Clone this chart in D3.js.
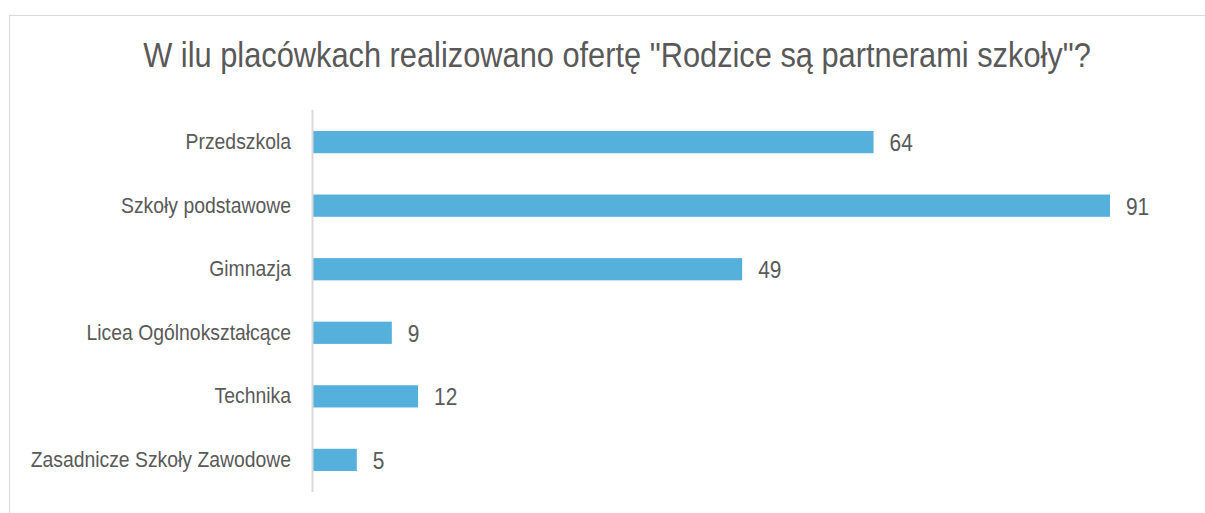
<!DOCTYPE html>
<html>
<head>
<meta charset="utf-8">
<script src="https://cdn.jsdelivr.net/npm/d3@7"></script>
<style>
  html, body { margin: 0; padding: 0; background: #fff; }
  svg text { font-family: "Liberation Sans", Arial, sans-serif; fill: #595959; }
</style>
</head>
<body>
<div id="chart"></div>
<script>
const title = 'W ilu placówkach realizowano ofertę "Rodzice są partnerami szkoły"?';
const categories = ["Przedszkola", "Szkoły podstawowe", "Gimnazja", "Licea Ogólnokształcące", "Technika", "Zasadnicze Szkoły Zawodowe"];
const values = [64, 91, 49, 9, 12, 5];

const width = 1205, height = 513;
const margin = { top: 110, right: 95, bottom: 21, left: 313 };

const svg = d3.select("#chart")
    .append("svg")
    .attr("width", width)
    .attr("height", height);

// chart frame (runs off the right and bottom edges)
svg.append("rect")
    .attr("x", 9.5)
    .attr("y", 15.5)
    .attr("width", width + 20)
    .attr("height", height + 20)
    .attr("fill", "none")
    .attr("stroke", "#d9d9d9");

// the source font is a narrow one, so squeeze text horizontally
svg.append("text")
    .attr("transform", "translate(617,67) scale(0.88,1)")
    .attr("text-anchor", "middle")
    .style("font-size", "35px")
    .text(title);

const x = d3.scaleLinear()
    .domain([0, 91])
    .range([margin.left, 1110]);

const y = d3.scaleBand()
    .domain(categories)
    .range([margin.top, height - margin.bottom])
    .paddingInner(0.65)
    .paddingOuter(0.33);

const data = categories.map((c, i) => ({ cat: c, val: values[i] }));

svg.selectAll(".bar")
    .data(data)
    .enter()
    .append("rect")
    .attr("class", "bar")
    .attr("x", x(0))
    .attr("y", d => y(d.cat))
    .attr("width", d => x(d.val) - x(0))
    .attr("height", y.bandwidth())
    .attr("fill", "#56b0dc");

svg.selectAll(".val")
    .data(data)
    .enter()
    .append("text")
    .attr("class", "val")
    .attr("transform", d => `translate(${x(d.val) + 16},${y(d.cat) + y.bandwidth() / 2 + 9}) scale(0.87,1)`)
    .style("font-size", "24px")
    .text(d => d.val);

svg.selectAll(".cat")
    .data(data)
    .enter()
    .append("text")
    .attr("class", "cat")
    .attr("transform", d => `translate(291,${y(d.cat) + y.bandwidth() / 2 + 7}) scale(0.88,1)`)
    .attr("text-anchor", "end")
    .style("font-size", "22px")
    .text(d => d.cat);

// vertical axis line
svg.append("line")
    .attr("x1", x(0) - 0.5)
    .attr("x2", x(0) - 0.5)
    .attr("y1", margin.top)
    .attr("y2", height - margin.bottom)
    .attr("stroke", "#d9d9d9")
    .attr("stroke-width", 2);
</script>
</body>
</html>
